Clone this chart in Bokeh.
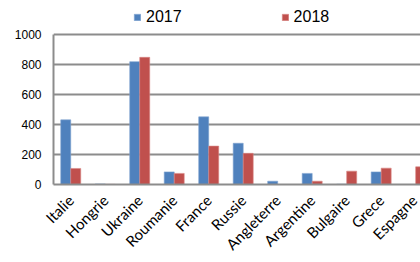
import math
from bokeh.plotting import figure
from bokeh.models import Range1d, ColumnDataSource, Legend, LegendItem, FixedTicker
from bokeh.embed import file_html
from bokeh.resources import INLINE

countries = ["Italie", "Hongrie", "Ukraine", "Roumanie", "France", "Russie",
             "Angleterre", "Argentine", "Bulgaire", "Grece", "Espagne"]
v2017 = [431, 4, 819, 84, 451, 275, 22, 74, 2, 84, 0]
v2018 = [107, 1, 848, 74, 256, 208, 0, 22, 89, 109, 118]
y_ticks = [0, 200, 400, 600, 800, 1000]

idx = list(range(len(countries)))
src = ColumnDataSource(dict(
    x1=[i + 0.5 - 0.145 for i in idx],
    x2=[i + 0.5 + 0.145 for i in idx],
    a=v2017, b=v2018))

p = figure(width=420, height=262, output_backend="svg", toolbar_location=None,
           x_range=Range1d(0, 10.64), y_range=Range1d(0, 1227),
           min_border_left=53, min_border_right=0, min_border_top=0,
           min_border_bottom=78)
p.outline_line_color = None
p.background_fill_color = "white"

r1 = p.vbar(x="x1", top="a", width=0.29, source=src, fill_color="#4F81BD",
            line_color="#7fa3d0", line_width=0.6)
r2 = p.vbar(x="x2", top="b", width=0.29, source=src, fill_color="#C0504D",
            line_color="#d88785", line_width=0.6)

p.xgrid.visible = False
p.ygrid.ticker = FixedTicker(ticks=y_ticks)
p.ygrid.grid_line_color = "#8c8c8c"
p.ygrid.grid_line_width = 2

p.yaxis.ticker = FixedTicker(ticks=y_ticks)
p.yaxis.bounds = (0, 1000)
p.yaxis.axis_line_color = "#8c8c8c"
p.yaxis.axis_line_width = 2
p.yaxis.major_tick_line_color = None
p.yaxis.minor_tick_line_color = None
p.yaxis.major_label_text_font = "Liberation Sans"
p.yaxis.major_label_text_font_size = "12px"
p.yaxis.major_label_text_color = "#000000"
p.yaxis.major_label_standoff = 6

p.xaxis.ticker = FixedTicker(ticks=[i + 0.5 for i in idx])
p.xaxis.major_label_overrides = {i + 0.5: c for i, c in zip(idx, countries)}
p.xaxis.axis_line_color = "#8c8c8c"
p.xaxis.axis_line_width = 2
p.xaxis.major_tick_line_color = None
p.xaxis.minor_tick_line_color = None
p.xaxis.major_label_orientation = math.pi / 4
p.xaxis.major_label_text_font = "Lato"
p.xaxis.major_label_text_font_size = "15px"
p.xaxis.major_label_text_color = "#000000"
p.xaxis.major_label_standoff = 7

legend = Legend(items=[LegendItem(label="2017", renderers=[r1]),
                       LegendItem(label="2018", renderers=[r2])],
                orientation="horizontal", location=(80, 158),
                spacing=99, glyph_width=8, glyph_height=8,
                label_text_font="Liberation Sans", label_text_font_size="16px",
                label_text_color="#000000",
                label_standoff=5, border_line_color=None,
                background_fill_alpha=0, padding=0, margin=0)
p.add_layout(legend, "center")

open("out.html", "w").write(file_html(p, INLINE))
